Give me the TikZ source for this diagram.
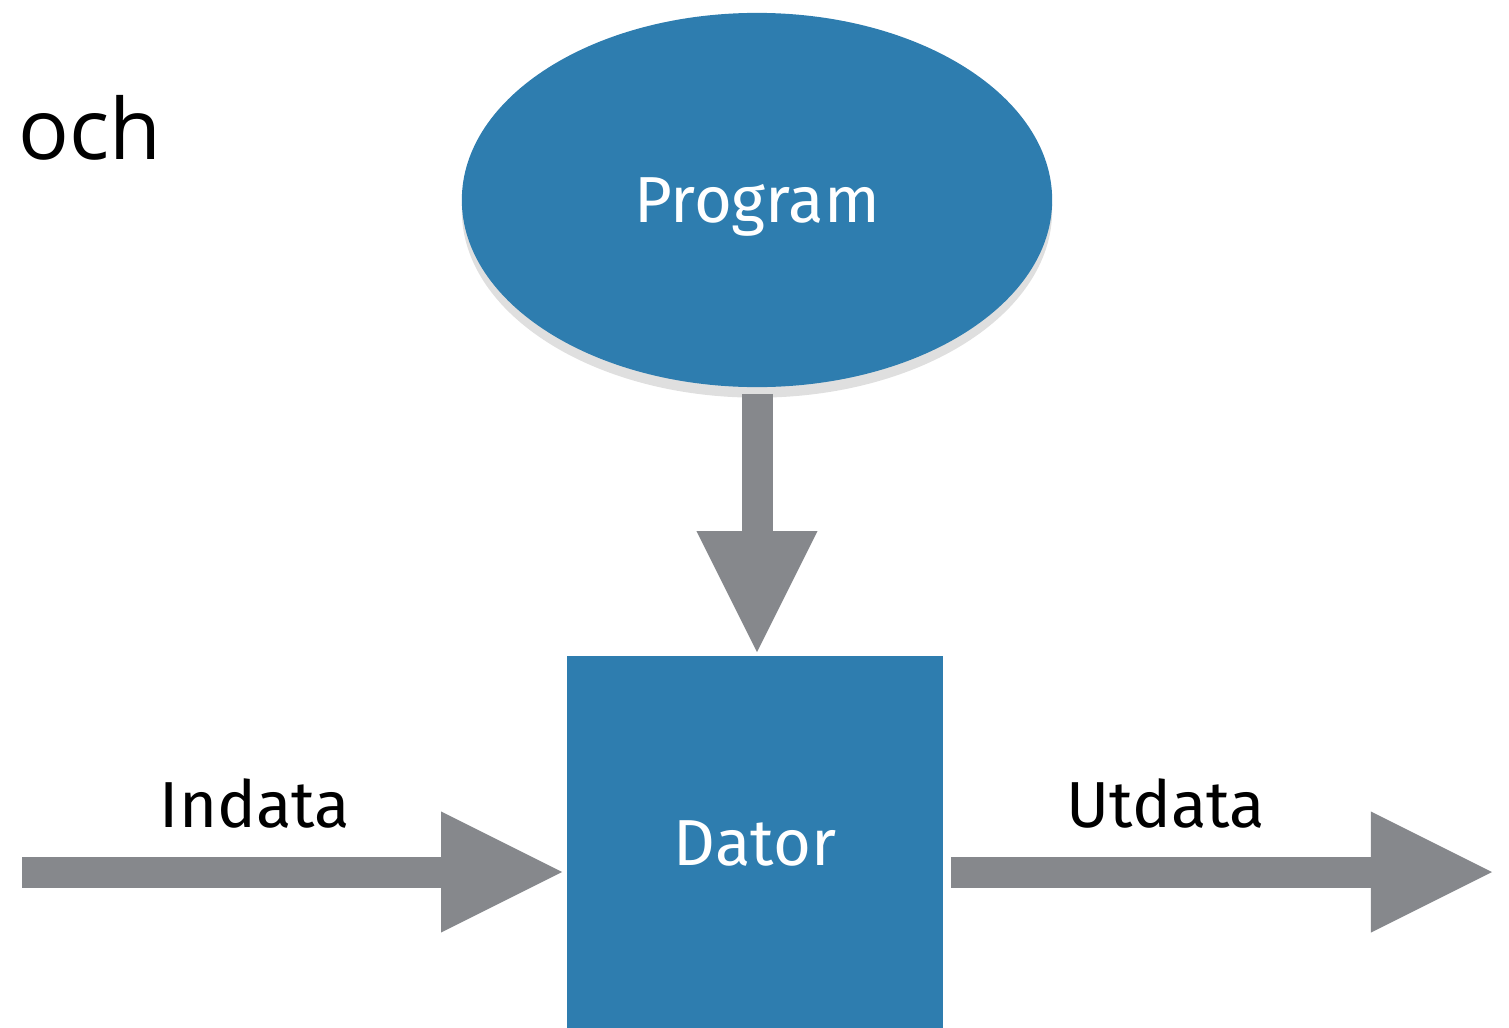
\documentclass[tikz,border=0pt]{standalone}
\usepackage{fontspec}
\setmainfont{Fira Sans}
\newfontfamily\ochfont{Open Sans}
\usetikzlibrary{arrows.meta,shapes.geometric,shadows}
\definecolor{boxblue}{HTML}{2E7DAF}
\definecolor{arrowgray}{HTML}{86888C}

\begin{document}
\begin{tikzpicture}[x=0.01cm, y=-0.01cm,
  blob/.style={fill=boxblue, text=white, inner sep=0pt, font=\fontsize{18.5}{22}\selectfont,
    drop shadow={shadow xshift=0pt, shadow yshift=-3pt, opacity=0.25}},
  fatarrow/.style={arrowgray, line width=0.31cm, -{Triangle[length=1.21cm, width=1.21cm, line width=0pt]}},
  lbl/.style={font=\fontsize{18.5}{22}\selectfont}]
\useasboundingbox (0,0) rectangle (1509,1027);
\clip (0,0) rectangle (1509,1027);

% och
\node[anchor=base west, inner sep=0pt, font=\ochfont\fontsize{24}{29}\selectfont] (och) at (18,159) {och};

% Program and computer
\node[blob, ellipse, text depth=0pt, minimum width=5.9cm, minimum height=3.74cm] (program) at (757,200) {Program};
\node[blob, rectangle, minimum width=3.76cm, minimum height=3.74cm] (dator) at (755,843) {Dator};

% Input and output
\coordinate (instart) at (22,872);
\coordinate (utend) at (1492,872);

\draw[fatarrow, shorten <=0.06cm, shorten >=0.03cm] (program.south) -- (program.south |- dator.north);
\draw[fatarrow, shorten >=0.04cm] (instart) -- (instart -| dator.west);
\draw[fatarrow, shorten <=0.07cm] (dator.east |- utend) -- (utend);

\node[lbl] (indata) at (255,803) {Indata};
\node[lbl] (utdata) at (1166,803) {Utdata};

\end{tikzpicture}
\end{document}
